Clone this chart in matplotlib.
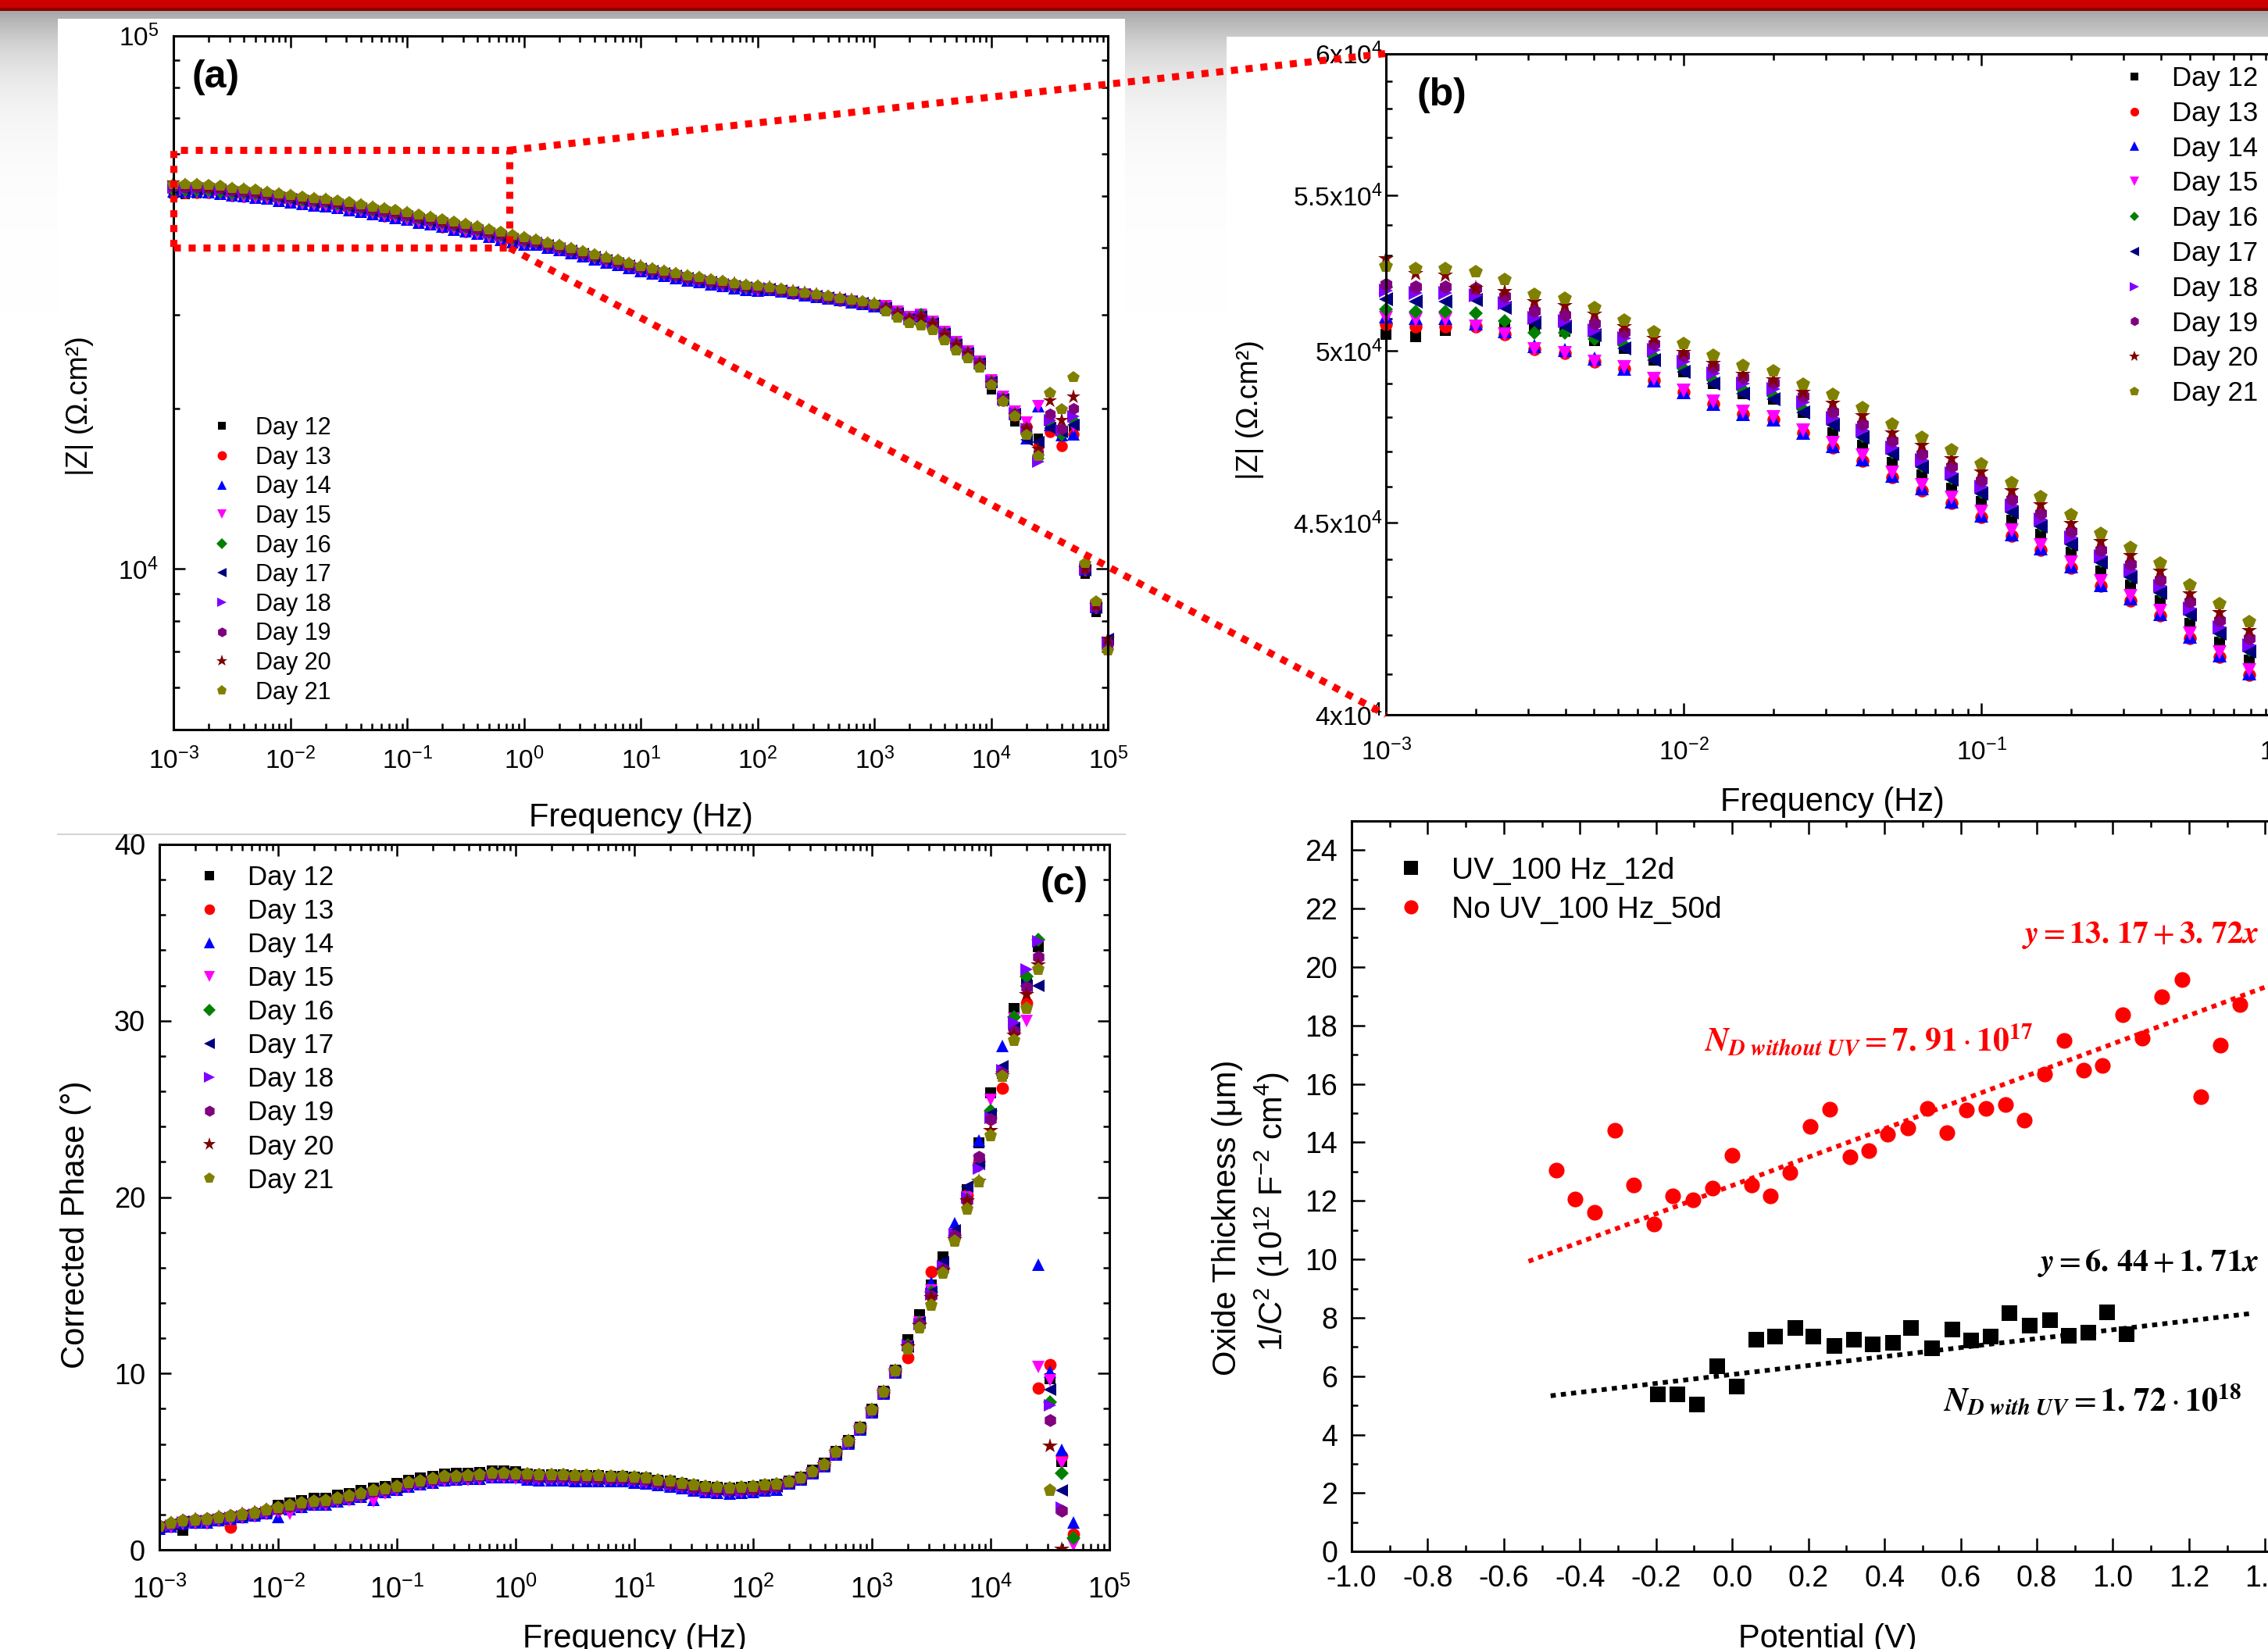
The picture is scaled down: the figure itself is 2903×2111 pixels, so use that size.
import numpy as np
import matplotlib
matplotlib.use("Agg")
import matplotlib.pyplot as plt
from matplotlib.patches import Rectangle, ConnectionPatch
from matplotlib.ticker import (LogLocator, NullFormatter, MultipleLocator,
                               FuncFormatter, FixedLocator)

plt.rcParams['font.family'] = ['Liberation Sans', 'DejaVu Sans']
plt.rcParams['mathtext.fontset'] = 'custom'
plt.rcParams['mathtext.rm'] = 'Liberation Sans'
plt.rcParams['mathtext.it'] = 'Liberation Sans:italic'
plt.rcParams['mathtext.bf'] = 'Liberation Sans:bold'
plt.rcParams['mathtext.sf'] = 'Liberation Sans'

nan = float("nan")

# ---------------- EIS data (frequency in Hz, |Z| in kOhm.cm2, phase in deg) ----------------
freq = [
    1.00e-3, 1.26e-3, 1.58e-3, 2.00e-3, 2.51e-3, 3.16e-3, 3.98e-3, 5.01e-3, 6.31e-3, 7.94e-3,
    1.00e-2, 1.26e-2, 1.58e-2, 2.00e-2, 2.51e-2, 3.16e-2, 3.98e-2, 5.01e-2, 6.31e-2, 7.94e-2,
    1.00e-1, 1.26e-1, 1.58e-1, 2.00e-1, 2.51e-1, 3.16e-1, 3.98e-1, 5.01e-1, 6.31e-1, 7.94e-1,
    1.00e0, 1.26e0, 1.58e0, 2.00e0, 2.51e0, 3.16e0, 3.98e0, 5.01e0, 6.31e0, 7.94e0,
    1.00e1, 1.26e1, 1.58e1, 2.00e1, 2.51e1, 3.16e1, 3.98e1, 5.01e1, 6.31e1, 7.94e1,
    1.00e2, 1.26e2, 1.58e2, 2.00e2, 2.51e2, 3.16e2, 3.98e2, 5.01e2, 6.31e2, 7.94e2,
    1.00e3, 1.26e3, 1.58e3, 2.00e3, 2.51e3, 3.16e3, 3.98e3, 5.01e3, 6.31e3, 7.94e3,
    1.00e4, 1.26e4, 1.58e4, 2.00e4, 2.51e4, 3.16e4, 3.98e4, 5.01e4, 6.31e4, 7.94e4,
    1.00e5]

z_day12 = [
    50.50, 50.43, 50.62, 50.79, 50.76, 50.72, 50.60, 50.32, 50.07, 49.72,
    49.36, 49.01, 48.71, 48.54, 48.15, 47.55, 47.18, 46.70, 46.33, 45.97,
    45.58, 45.06, 44.67, 44.18, 43.68, 43.30, 42.89, 42.31, 41.83, 41.37,
    40.94, 40.82, 40.33, 39.83, 39.34, 38.85, 38.36, 37.86, 37.37, 36.93,
    36.48, 36.09, 35.69, 35.35, 35.00, 34.71, 34.41, 34.12, 33.87, 33.62,
    33.43, 33.46, 33.22, 32.97, 32.72, 32.47, 32.22, 31.97, 31.73, 31.48,
    31.18, 30.7, 30.0, 29.3, 29.6, 28.7, 27.4, 26.2, 25.2, 24.1,
    21.7, 20.6, 18.9, 18.0, 17.6, 18.6, 18.0, 18.3, 9.78, 8.30,
    7.20]
z_day13 = [
    50.82, 50.75, 50.75, 50.74, 50.50, 50.04, 49.93, 49.66, 49.46, 49.11,
    48.75, 48.41, 48.11, 47.95, 47.56, 47.11, 46.74, 46.27, 45.90, 45.54,
    45.16, 44.64, 44.26, 43.77, 43.28, 42.90, 42.50, 41.92, 41.44, 40.99,
    40.56, 40.61, 40.12, 39.63, 39.14, 38.65, 38.16, 37.67, 37.18, 36.74,
    36.30, 35.90, 35.51, 35.17, 34.83, 34.53, 34.24, 33.94, 33.70, 33.45,
    33.26, 33.36, 33.12, 32.87, 32.62, 32.37, 32.13, 31.88, 31.63, 31.38,
    31.09, 30.8, 30.1, 29.4, 29.7, 28.8, 27.5, 26.3, 25.3, 24.2,
    22.3, 20.7, 19.4, 18.5, 17.0, 18.1, 17.0, 17.9, 9.95, 8.45,
    7.22]
z_day14 = [
    51.08, 51.01, 51.01, 50.84, 50.60, 50.15, 50.03, 49.76, 49.46, 49.11,
    48.75, 48.41, 48.11, 47.95, 47.56, 47.16, 46.79, 46.32, 45.95, 45.59,
    45.20, 44.69, 44.30, 43.82, 43.32, 42.95, 42.54, 41.97, 41.48, 41.03,
    40.60, 40.57, 40.08, 39.59, 39.10, 38.61, 38.12, 37.63, 37.14, 36.70,
    36.26, 35.87, 35.48, 35.13, 34.79, 34.50, 34.20, 33.91, 33.66, 33.42,
    33.22, 33.40, 33.15, 32.90, 32.65, 32.41, 32.16, 31.91, 31.66, 31.41,
    31.12, 30.9, 30.2, 29.5, 29.8, 28.9, 27.6, 26.4, 25.4, 24.3,
    22.4, 20.8, 19.5, 17.6, 20.2, 18.6, 17.8, 17.9, 9.97, 8.48,
    7.25]
z_day15 = [
    51.03, 50.96, 50.96, 50.74, 50.50, 50.04, 49.93, 49.66, 49.51, 49.16,
    48.80, 48.46, 48.16, 48.00, 47.61, 47.26, 46.89, 46.41, 46.04, 45.69,
    45.30, 44.78, 44.39, 43.91, 43.41, 43.03, 42.63, 42.05, 41.57, 41.11,
    40.68, 40.70, 40.20, 39.71, 39.22, 38.73, 38.24, 37.75, 37.26, 36.81,
    36.37, 35.98, 35.58, 35.24, 34.90, 34.60, 34.31, 34.01, 33.77, 33.52,
    33.32, 33.43, 33.18, 32.93, 32.69, 32.44, 32.19, 31.94, 31.69, 31.45,
    31.15, 31.1, 30.4, 29.7, 30.0, 29.1, 27.8, 26.6, 25.6, 24.5,
    22.6, 21.0, 19.7, 18.8, 20.2, 18.9, 18.0, 18.5, 9.96, 8.47,
    7.24]
z_day16 = [
    51.29, 51.22, 51.22, 51.16, 50.91, 50.56, 50.55, 50.37, 50.18, 49.82,
    49.46, 49.11, 48.81, 48.64, 48.25, 47.84, 47.47, 46.99, 46.61, 46.25,
    45.86, 45.34, 44.94, 44.45, 43.95, 43.57, 43.15, 42.57, 42.08, 41.62,
    41.19, 40.99, 40.49, 40.00, 39.50, 39.01, 38.51, 38.02, 37.52, 37.08,
    36.63, 36.23, 35.84, 35.49, 35.15, 34.85, 34.55, 34.25, 34.01, 33.76,
    33.56, 33.53, 33.28, 33.03, 32.79, 32.54, 32.29, 32.04, 31.79, 31.54,
    31.24, 31.0, 30.3, 29.6, 30.1, 29.0, 27.7, 26.5, 25.5, 24.4,
    22.5, 20.9, 19.6, 18.1, 16.1, 18.8, 17.8, 19.0, 9.98, 8.50,
    7.26]
z_day17 = [
    51.61, 51.54, 51.54, 51.58, 51.33, 50.87, 50.75, 50.48, 50.07, 49.72,
    49.36, 49.01, 48.71, 48.54, 48.15, 47.79, 47.42, 46.94, 46.57, 46.20,
    45.81, 45.29, 44.90, 44.41, 43.91, 43.52, 43.11, 42.53, 42.04, 41.58,
    41.15, 40.94, 40.45, 39.96, 39.46, 38.97, 38.47, 37.98, 37.48, 37.04,
    36.59, 36.20, 35.80, 35.46, 35.11, 34.81, 34.52, 34.22, 33.97, 33.72,
    33.53, 33.50, 33.25, 33.00, 32.75, 32.50, 32.26, 32.01, 31.76, 31.51,
    31.21, 30.9, 30.2, 29.5, 29.8, 28.9, 27.6, 26.4, 25.4, 24.3,
    22.4, 20.8, 19.5, 17.5, 17.3, 18.4, 18.1, 18.6, 9.96, 8.47,
    7.39]
z_day18 = [
    51.87, 51.80, 51.80, 51.74, 51.49, 51.03, 50.91, 50.63, 50.38, 50.02,
    49.66, 49.31, 49.00, 48.84, 48.44, 47.99, 47.61, 47.13, 46.76, 46.39,
    46.00, 45.47, 45.08, 44.59, 44.08, 43.70, 43.29, 42.70, 42.21, 41.75,
    41.31, 41.07, 40.57, 40.08, 39.58, 39.08, 38.59, 38.09, 37.60, 37.15,
    36.70, 36.31, 35.91, 35.56, 35.22, 34.92, 34.62, 34.32, 34.07, 33.83,
    33.63, 33.57, 33.32, 33.07, 32.82, 32.57, 32.32, 32.07, 31.82, 31.57,
    31.27, 31.0, 30.3, 29.6, 29.9, 29.0, 27.7, 26.5, 25.5, 24.4,
    22.5, 20.9, 19.6, 18.3, 15.9, 19.0, 18.2, 19.3, 9.99, 8.50,
    7.27]
z_day19 = [
    52.08, 52.01, 52.01, 51.95, 51.70, 51.23, 51.11, 50.84, 50.58, 50.23,
    49.86, 49.51, 49.20, 49.03, 48.64, 48.18, 47.81, 47.32, 46.95, 46.58,
    46.18, 45.66, 45.26, 44.77, 44.26, 43.88, 43.46, 42.88, 42.38, 41.92,
    41.48, 41.15, 40.65, 40.16, 39.66, 39.16, 38.67, 38.17, 37.67, 37.22,
    36.78, 36.38, 35.98, 35.63, 35.29, 34.99, 34.69, 34.39, 34.14, 33.90,
    33.70, 33.60, 33.35, 33.10, 32.85, 32.60, 32.35, 32.10, 31.85, 31.60,
    31.31, 30.9, 30.2, 29.5, 29.8, 28.9, 27.6, 26.4, 25.4, 24.3,
    22.4, 20.8, 19.5, 18.4, 16.5, 19.5, 18.3, 20.0, 10.00, 8.52,
    7.28]
z_day20 = [
    52.92, 52.43, 52.38, 51.95, 51.85, 51.54, 51.42, 51.14, 50.74, 50.38,
    49.96, 49.61, 49.30, 49.13, 48.74, 48.43, 48.05, 47.56, 47.18, 46.81,
    46.42, 45.89, 45.49, 44.99, 44.49, 44.10, 43.68, 43.09, 42.60, 42.13,
    41.69, 41.28, 40.78, 40.28, 39.78, 39.28, 38.78, 38.28, 37.79, 37.34,
    36.89, 36.49, 36.09, 35.74, 35.39, 35.09, 34.80, 34.50, 34.25, 34.00,
    33.80, 33.67, 33.42, 33.17, 32.92, 32.67, 32.42, 32.17, 31.92, 31.67,
    31.37, 30.8, 30.1, 29.4, 29.7, 28.8, 27.5, 26.3, 25.3, 24.2,
    22.3, 20.7, 19.4, 18.3, 16.8, 20.7, 19.0, 21.0, 10.02, 8.55,
    7.39]
z_day21 = [
    52.66, 52.59, 52.59, 52.47, 52.22, 51.75, 51.63, 51.35, 50.94, 50.58,
    50.21, 49.86, 49.55, 49.38, 48.98, 48.67, 48.29, 47.80, 47.42, 47.05,
    46.65, 46.12, 45.72, 45.22, 44.71, 44.32, 43.90, 43.31, 42.81, 42.34,
    41.90, 41.40, 40.90, 40.40, 39.90, 39.40, 38.90, 38.40, 37.90, 37.45,
    37.00, 36.60, 36.20, 35.85, 35.50, 35.20, 34.90, 34.60, 34.35, 34.10,
    33.90, 33.70, 33.45, 33.20, 32.95, 32.70, 32.45, 32.20, 31.95, 31.70,
    31.40, 30.40, 29.60, 28.90, 28.60, 28.00, 26.80, 25.70, 24.80, 23.80,
    22.10, 20.60, 19.30, 17.80, 16.30, 21.40, 19.90, 22.90, 10.24, 8.70,
    7.04]

ph_day12 = [
    1.24, 1.39, 1.12, 1.59, 1.62, 1.72, 1.80, 1.91, 2.00, 2.14,
    2.54, 2.67, 2.79, 2.91, 2.94, 3.09, 3.21, 3.36, 3.51, 3.61,
    3.76, 3.96, 4.06, 4.18, 4.30, 4.33, 4.36, 4.40, 4.48, 4.48,
    4.45, 4.28, 4.25, 4.25, 4.25, 4.22, 4.22, 4.19, 4.18, 4.18,
    4.13, 4.07, 3.96, 3.88, 3.78, 3.66, 3.58, 3.54, 3.51, 3.54,
    3.57, 3.66, 3.73, 3.90, 4.12, 4.50, 4.90, 5.57, 6.19, 6.97,
    7.96, 8.99, 10.21, 11.9, 13.35, 15.0, 16.6, 18.0, 20.4, 23.1,
    25.9, 27.0, 30.7, 32.2, 34.2, 9.72, 5.0, nan, nan, nan,
    nan]
ph_day13 = [
    1.19, 1.34, 1.49, 1.54, 1.57, 1.67, 1.30, 1.86, 1.95, 2.09,
    2.29, 2.42, 2.54, 2.66, 2.69, 2.84, 2.96, 3.11, 3.26, 3.36,
    3.51, 3.71, 3.81, 3.93, 4.05, 4.08, 4.11, 4.15, 4.23, 4.23,
    4.20, 4.13, 4.10, 4.10, 4.10, 4.07, 4.07, 4.04, 4.03, 4.03,
    3.98, 3.92, 3.81, 3.73, 3.63, 3.51, 3.43, 3.39, 3.36, 3.39,
    3.42, 3.51, 3.58, 3.80, 4.02, 4.40, 4.80, 5.47, 6.09, 6.87,
    7.86, 8.89, 10.11, 10.9, 12.9, 15.76, 16.0, 17.9, 20.1, 22.0,
    24.5, 26.18, 29.5, 31.0, 9.15, 10.5, 5.31, 0.9, nan, nan,
    nan]
ph_day14 = [
    1.19, 1.34, 1.49, 1.54, 1.57, 1.67, 1.75, 1.86, 1.95, 2.09,
    1.85, 2.32, 2.44, 2.56, 2.59, 2.74, 2.86, 3.01, 2.85, 3.26,
    3.41, 3.61, 3.71, 3.83, 3.95, 3.98, 4.01, 4.05, 4.13, 4.13,
    4.10, 3.98, 3.95, 3.95, 3.95, 3.92, 3.92, 3.89, 3.88, 3.88,
    3.83, 3.77, 3.66, 3.58, 3.48, 3.36, 3.28, 3.24, 3.21, 3.24,
    3.27, 3.36, 3.43, 3.75, 3.97, 4.35, 4.75, 5.42, 6.04, 6.82,
    7.81, 8.84, 10.06, 11.6, 13.0, 15.16, 16.2, 18.5, 20.2, 23.2,
    24.9, 28.56, 29.8, 32.3, 16.15, 10.1, 5.65, 1.56, nan, nan,
    nan]
ph_day15 = [
    1.14, 1.29, 1.44, 1.49, 1.52, 1.62, 1.70, 1.81, 1.90, 2.04,
    2.14, 2.05, 2.39, 2.51, 2.54, 2.69, 2.81, 2.96, 2.75, 3.21,
    3.36, 3.56, 3.66, 3.78, 3.90, 3.93, 3.96, 4.00, 4.08, 4.08,
    4.05, 4.03, 4.00, 4.00, 4.00, 3.97, 3.97, 3.94, 3.93, 3.93,
    3.88, 3.82, 3.71, 3.63, 3.53, 3.41, 3.33, 3.29, 3.26, 3.29,
    3.32, 3.41, 3.48, 3.75, 3.97, 4.35, 4.75, 5.42, 6.04, 6.82,
    7.81, 8.84, 10.06, 11.5, 12.9, 14.7, 16.0, 17.9, 20.0, 22.0,
    25.5, 27.0, 30.1, 30.0, 10.37, 9.6, 4.9, 0.26, nan, nan,
    nan]
ph_day16 = [
    1.34, 1.49, 1.64, 1.69, 1.72, 1.82, 1.90, 2.01, 2.10, 2.24,
    2.34, 2.47, 2.59, 2.71, 2.74, 2.89, 3.01, 3.16, 3.31, 3.41,
    3.56, 3.76, 3.86, 3.98, 4.10, 4.13, 4.16, 4.20, 4.28, 4.28,
    4.25, 4.18, 4.15, 4.15, 4.15, 4.12, 4.12, 4.09, 4.08, 4.08,
    4.03, 3.97, 3.86, 3.78, 3.68, 3.56, 3.48, 3.44, 3.41, 3.44,
    3.47, 3.56, 3.63, 3.85, 4.07, 4.45, 4.85, 5.52, 6.14, 6.92,
    7.91, 8.94, 10.16, 11.6, 12.9, 14.6, 16.0, 17.8, 19.9, 21.8,
    24.9, 27.1, 30.2, 32.5, 34.6, 8.37, 4.33, 0.65, nan, nan,
    nan]
ph_day17 = [
    1.29, 1.44, 1.59, 1.64, 1.67, 1.77, 1.85, 1.96, 2.05, 2.19,
    2.34, 2.47, 2.59, 2.71, 2.74, 2.89, 3.01, 3.16, 3.31, 3.41,
    3.56, 3.76, 3.86, 3.98, 4.10, 4.13, 4.16, 4.20, 4.28, 4.28,
    4.25, 4.13, 4.10, 4.10, 4.10, 4.07, 4.07, 4.04, 4.03, 4.03,
    3.98, 3.92, 3.81, 3.73, 3.63, 3.51, 3.43, 3.39, 3.36, 3.39,
    3.42, 3.51, 3.58, 3.80, 4.02, 4.40, 4.80, 5.47, 6.09, 6.87,
    7.86, 8.89, 10.11, 11.5, 12.9, 14.6, 16.3, 18.1, 20.6, 21.9,
    24.7, 27.4, 29.6, 32.0, 32.0, 9.07, 3.37, nan, nan, nan,
    nan]
ph_day18 = [
    1.24, 1.39, 1.54, 1.59, 1.62, 1.72, 1.80, 1.91, 2.00, 2.14,
    2.24, 2.37, 2.49, 2.61, 2.64, 2.79, 2.91, 3.06, 3.21, 3.31,
    3.46, 3.66, 3.76, 3.88, 4.00, 4.03, 4.06, 4.10, 4.18, 4.18,
    4.15, 4.08, 4.05, 4.05, 4.05, 4.02, 4.02, 3.99, 3.98, 3.98,
    3.93, 3.87, 3.76, 3.68, 3.58, 3.46, 3.38, 3.34, 3.31, 3.34,
    3.37, 3.46, 3.53, 3.75, 3.97, 4.35, 4.75, 5.42, 6.04, 6.82,
    7.81, 8.84, 10.06, 11.6, 12.8, 14.5, 16.1, 17.9, 20.0, 21.6,
    24.5, 27.2, 29.9, 32.9, 34.5, 8.2, 2.4, nan, nan, nan,
    nan]
ph_day19 = [
    1.37, 1.52, 1.67, 1.72, 1.75, 1.85, 1.93, 2.04, 2.13, 2.27,
    2.36, 2.49, 2.61, 2.73, 2.76, 2.91, 3.03, 3.18, 3.33, 3.43,
    3.58, 3.78, 3.88, 4.00, 4.12, 4.15, 4.18, 4.22, 4.30, 4.30,
    4.27, 4.18, 4.15, 4.15, 4.15, 4.12, 4.12, 4.09, 4.08, 4.08,
    4.03, 3.97, 3.86, 3.78, 3.68, 3.56, 3.48, 3.44, 3.41, 3.44,
    3.47, 3.56, 3.63, 3.85, 4.07, 4.45, 4.85, 5.52, 6.14, 6.92,
    7.91, 8.94, 10.16, 11.5, 12.8, 14.39, 15.9, 17.8, 19.8, 22.3,
    24.4, 27.0, 29.4, 31.9, 33.6, 7.34, 2.2, nan, nan, nan,
    nan]
ph_day20 = [
    1.36, 1.51, 1.66, 1.71, 1.74, 1.84, 1.92, 2.03, 2.12, 2.26,
    2.37, 2.50, 2.62, 2.74, 2.77, 2.92, 3.04, 3.19, 3.34, 3.44,
    3.59, 3.79, 3.89, 4.01, 4.13, 4.16, 4.19, 4.23, 4.31, 4.31,
    4.28, 4.23, 4.20, 4.20, 4.20, 4.17, 4.17, 4.14, 4.13, 4.13,
    4.08, 4.02, 3.91, 3.83, 3.73, 3.61, 3.53, 3.49, 3.46, 3.49,
    3.52, 3.61, 3.68, 3.85, 4.07, 4.45, 4.85, 5.52, 6.14, 6.92,
    7.91, 8.94, 10.16, 11.5, 12.7, 14.3, 15.8, 17.6, 19.8, 20.9,
    23.8, 26.9, 29.2, 31.5, 33.2, 5.88, 0.05, nan, nan, nan,
    nan]
ph_day21 = [
    1.34, 1.49, 1.64, 1.69, 1.72, 1.82, 1.90, 2.01, 2.10, 2.24,
    2.39, 2.52, 2.64, 2.76, 2.79, 2.94, 3.06, 3.21, 3.36, 3.46,
    3.61, 3.81, 3.91, 4.03, 4.15, 4.18, 4.21, 4.25, 4.33, 4.33,
    4.30, 4.28, 4.25, 4.25, 4.25, 4.22, 4.22, 4.19, 4.18, 4.18,
    4.13, 4.07, 3.96, 3.88, 3.78, 3.66, 3.58, 3.54, 3.51, 3.54,
    3.57, 3.66, 3.73, 3.85, 4.07, 4.45, 4.85, 5.52, 6.14, 6.92,
    7.91, 8.94, 10.16, 11.4, 12.57, 13.87, 15.68, 17.5, 19.31, 20.87,
    23.46, 26.83, 28.9, 30.7, 32.9, 3.37, nan, nan, nan, nan,
    nan]

day_labels = ["Day 12", "Day 13", "Day 14", "Day 15", "Day 16",
              "Day 17", "Day 18", "Day 19", "Day 20", "Day 21"]
day_colors = ["#000000", "#ff0000", "#0000ff", "#ff00ff", "#008000",
              "#000080", "#8000ff", "#800080", "#800000", "#808000"]
day_markers = ["s", "o", "^", "v", "D", "<", ">", "h", "*", "p"]
marker_scale = [0.85, 0.95, 1.0, 1.0, 0.75, 1.0, 1.0, 1.0, 1.25, 1.05]
z_series = [z_day12, z_day13, z_day14, z_day15, z_day16,
            z_day17, z_day18, z_day19, z_day20, z_day21]
ph_series = [ph_day12, ph_day13, ph_day14, ph_day15, ph_day16,
             ph_day17, ph_day18, ph_day19, ph_day20, ph_day21]

# zoomed window shown in panel (b)
zoom_f = (1.0e-3, 0.75)
zoom_z = (4.0e4, 6.1e4)

# ---------------- Mott-Schottky data ----------------
uv_v = [-0.196, -0.144, -0.092, -0.039, 0.011, 0.063, 0.113, 0.165, 0.214, 0.269,
        0.319, 0.369, 0.422, 0.470, 0.525, 0.578, 0.628, 0.678, 0.729, 0.781,
        0.834, 0.884, 0.936, 0.985, 1.037]
uv_c = [5.38, 5.38, 5.03, 6.34, 5.64, 7.26, 7.35, 7.64, 7.35, 7.03,
        7.26, 7.08, 7.14, 7.64, 6.96, 7.61, 7.22, 7.35, 8.17, 7.73,
        7.91, 7.38, 7.49, 8.19, 7.43]
nouv_v = [-0.462, -0.412, -0.361, -0.309, -0.259, -0.206, -0.156, -0.104, -0.051, 0.000,
          0.050, 0.101, 0.152, 0.204, 0.256, 0.309, 0.359, 0.408, 0.461, 0.513,
          0.565, 0.615, 0.667, 0.717, 0.768, 0.821, 0.871, 0.923, 0.973, 1.026,
          1.078, 1.129, 1.181, 1.232, 1.283, 1.334]
nouv_c = [13.06, 12.06, 11.60, 14.41, 12.53, 11.21, 12.18, 12.04, 12.44, 13.55,
          12.53, 12.16, 12.97, 14.55, 15.13, 13.50, 13.71, 14.29, 14.50, 15.17,
          14.32, 15.11, 15.17, 15.29, 14.76, 16.34, 17.49, 16.48, 16.63, 18.37,
          17.57, 18.98, 19.56, 15.55, 17.33, 18.72]
uv_fit_v = [-0.477, 1.366]
uv_fit_c = [5.33, 8.15]
nouv_fit_v = [-0.535, 1.41]
nouv_fit_c = [9.93, 19.36]

# ---------------- figure ----------------
W, H = 2903, 2111
fig = plt.figure(figsize=(W / 100, H / 100), dpi=100)


def add_ax(l, t, r, b):
    return fig.add_axes([l / W, 1 - b / H, (r - l) / W, (b - t) / H])


def fpos(x, y):
    return x / W, 1 - y / H


# background: slide header (red bar + grey shadow) and white panel cards
bg = fig.add_axes([0, 0, 1, 1], zorder=-10)
bg.set_xlim(0, W)
bg.set_ylim(H, 0)
bg.axis("off")
rows = np.arange(400)
shade = np.clip(1.0 - 0.36 * np.exp(-np.clip(rows - 12, 0, None) / 62.0), 0, 1)
bg.imshow(np.repeat(shade[:, None, None], 3, axis=2), extent=[0, W, 400, 0],
          aspect="auto", interpolation="bilinear")
bg.add_patch(Rectangle((0, 0), W, 13, color="#cc0000", lw=0))
bg.add_patch(Rectangle((0, 10), W, 4, color="#8a0000", lw=0))
bg.add_patch(Rectangle((74, 24), 1440 - 74, H - 24, color="white", lw=0))
bg.add_patch(Rectangle((1570, 47), W - 1570, H - 47, color="white", lw=0))
bg.plot([74, 1440], [1068, 1068], color="#d4d4d4", lw=1.5)


def style_axes(ax, lsize, padx, pady):
    for sp in ax.spines.values():
        sp.set_linewidth(2.2)
    ax.tick_params(which="both", direction="in", top=True, right=True, width=1.8)
    ax.tick_params(which="major", length=11)
    ax.tick_params(which="minor", length=6)
    ax.tick_params(axis="x", labelsize=lsize, pad=padx)
    ax.tick_params(axis="y", labelsize=lsize, pad=pady)


def log_x(ax):
    ax.set_xscale("log")
    ax.xaxis.set_major_locator(LogLocator(base=10, numticks=30))
    ax.xaxis.set_minor_locator(LogLocator(base=10, subs=np.arange(2, 10), numticks=300))
    ax.xaxis.set_minor_formatter(NullFormatter())


# ---- (a) |Z| vs frequency ----
ax_a = add_ax(222.4, 45.7, 1418.4, 934)
for z, lab, mk, col, sc in zip(z_series, day_labels, day_markers, day_colors, marker_scale):
    ax_a.plot(freq, np.array(z) * 1e3, ls="none", marker=mk, ms=11 * sc,
              color=col, mew=0, label=lab, clip_on=False)
log_x(ax_a)
ax_a.set_yscale("log")
ax_a.set_xlim(1e-3, 1e5)
ax_a.set_ylim(5000, 1e5)
ax_a.yaxis.set_minor_locator(LogLocator(base=10, subs=np.arange(2, 10), numticks=300))
ax_a.yaxis.set_minor_formatter(NullFormatter())
style_axes(ax_a, 24, 16, 14)
ax_a.set_xlabel("Frequency (Hz)", fontsize=30, va="baseline")
ax_a.xaxis.set_label_coords(0.5, -0.1396)
ax_a.set_ylabel("|Z| (Ω.cm²)", fontsize=27, va="center")
ax_a.yaxis.set_label_coords(-0.1007, 0.466)
ax_a.legend(loc="upper left", bbox_to_anchor=fpos(269, 533), bbox_transform=fig.transFigure,
            frameon=False, fontsize=22, handlelength=1.0, handletextpad=0.89,
            labelspacing=0.25, borderpad=0, borderaxespad=0, markerscale=0.82)
ax_a.add_patch(Rectangle((zoom_f[0], zoom_z[0]), zoom_f[1] - zoom_f[0], zoom_z[1] - zoom_z[0],
                         fill=False, ec="#ff0000", lw=6.5, ls=(0, (1, 1.1)),
                         capstyle="butt", clip_on=False, zorder=10))

# ---- (b) zoom of |Z| ----
ax_b = add_ax(1774, 68.5, 2917.6, 915)
for z, lab, mk, col, sc in zip(z_series, day_labels, day_markers, day_colors, marker_scale):
    ax_b.plot(freq, np.array(z) * 1e3, ls="none", marker=mk, ms=12.5 * sc,
              color=col, mew=0, label=lab, clip_on=False)
log_x(ax_b)
ax_b.set_yscale("log")
ax_b.set_xlim(1e-3, 1e0)
ax_b.set_ylim(4e4, 6e4)
ax_b.set_yticks([4e4, 4.5e4, 5e4, 5.5e4, 6e4],
                labels=[r"$4\mathrm{x}10^{4}$", r"$4.5\mathrm{x}10^{4}$", r"$5\mathrm{x}10^{4}$",
                        r"$5.5\mathrm{x}10^{4}$", r"$6\mathrm{x}10^{4}$"])
ax_b.yaxis.set_minor_locator(FixedLocator([v for v in range(41000, 60000, 1000) if v % 5000]))
ax_b.yaxis.set_minor_formatter(NullFormatter())
style_axes(ax_b, 24, 22, 3)
ax_b.set_xlabel("Frequency (Hz)", fontsize=30, va="baseline")
ax_b.xaxis.set_label_coords(0.5, -0.1453)
ax_b.set_ylabel("|Z| (Ω.cm²)", fontsize=27, va="center")
ax_b.yaxis.set_label_coords(-0.152, 0.461)
ax_b.legend(loc="upper left", bbox_to_anchor=fpos(2714.3, 84), bbox_transform=fig.transFigure,
            frameon=False, fontsize=25, handlelength=1.0, handletextpad=0.9,
            labelspacing=0.34, borderpad=0, borderaxespad=0, markerscale=0.68)

# ---- (c) corrected phase ----
ax_c = add_ax(204, 1081, 1420, 1984)
for ph, lab, mk, col, sc in zip(ph_series, day_labels, day_markers, day_colors, marker_scale):
    ax_c.plot(freq, ph, ls="none", marker=mk, ms=12 * sc, color=col, mew=0, label=lab)
log_x(ax_c)
ax_c.set_xlim(1e-3, 1e5)
ax_c.set_ylim(0, 40)
ax_c.yaxis.set_major_locator(MultipleLocator(10))
ax_c.yaxis.set_minor_locator(MultipleLocator(2))
style_axes(ax_c, 26, 24, 13)
ax_c.set_xlabel("Frequency (Hz)", fontsize=30, va="baseline")
ax_c.xaxis.set_label_coords(0.5, -0.138)
ax_c.set_ylabel("Corrected Phase (°)", fontsize=30, va="center")
ax_c.yaxis.set_label_coords(-0.088, 0.461)
ax_c.legend(loc="upper left", bbox_to_anchor=fpos(250.6, 1107), bbox_transform=fig.transFigure,
            frameon=False, fontsize=25, handlelength=1.0, handletextpad=0.91,
            labelspacing=0.29, borderpad=0, borderaxespad=0, markerscale=0.85)

# ---- (d) Mott-Schottky ----
ax_d = add_ax(1730, 1050.8, 2948, 1986.3)
ax_d.plot(uv_v, uv_c, ls="none", marker="s", ms=14, color="black", mew=0,
          label="UV_100 Hz_12d", zorder=3)
ax_d.plot(nouv_v, nouv_c, ls="none", marker="o", ms=14.5, color="#ff0000", mew=0,
          label="No UV_100 Hz_50d", zorder=3)
ax_d.plot(uv_fit_v, uv_fit_c, color="black", lw=4.3, ls=(0, (1.1, 1.1)),
          dash_capstyle="butt", zorder=2)
ax_d.plot(nouv_fit_v, nouv_fit_c, color="#ff0000", lw=4.3, ls=(0, (1.1, 1.1)),
          dash_capstyle="butt", zorder=2)
ax_d.set_xlim(-1.0, 1.5)
ax_d.set_ylim(0, 25)
ax_d.xaxis.set_major_locator(MultipleLocator(0.2))
ax_d.xaxis.set_minor_locator(MultipleLocator(0.1))
ax_d.xaxis.set_major_formatter(FuncFormatter(lambda v, p: f"{round(v, 1) + 0.0:.1f}"))
ax_d.yaxis.set_major_locator(MultipleLocator(2))
ax_d.yaxis.set_minor_locator(MultipleLocator(1))
style_axes(ax_d, 27, 12, 13)
ax_d.tick_params(which="major", length=12)
ax_d.tick_params(labelfontfamily=["Liberation Sans Narrow", "Liberation Sans"])
ax_d.set_xlabel("Potential (V)", fontsize=30, va="baseline")
ax_d.xaxis.set_label_coords(0.5, -0.131)
ax_d.text(-0.1305, 0.457, "Oxide Thickness (μm)", transform=ax_d.transAxes, rotation=90,
          ha="center", va="center", fontsize=30)
ax_d.text(-0.0837, 0.465, r"1/C$^{2}$ (10$^{12}$ F$^{-2}$ cm$^{4}$)", transform=ax_d.transAxes,
          rotation=90, ha="center", va="center", fontsize=30)
ax_d.legend(loc="upper left", bbox_to_anchor=fpos(1786.5, 1097), bbox_transform=fig.transFigure,
            frameon=False, fontsize=28, handlelength=1.0, handletextpad=0.84,
            labelspacing=0.36, borderpad=0, borderaxespad=0, markerscale=0.9)

fig.text(*fpos(2588, 1197), r"$\mathbfit{y} = \mathbf{13.\,17} + \mathbf{3.\,72}\mathbfit{x}$",
         color="#ff0000", fontsize=29, ha="left", va="center", math_fontfamily="stix")
fig.text(*fpos(2181, 1332),
         r"$\mathbfit{N}_{\mathbfit{D\ without\ UV}} = \mathbf{7.\,91} \cdot \mathbf{10}^{\mathbf{17}}$",
         color="#ff0000", fontsize=30, ha="left", va="center", math_fontfamily="stix")
fig.text(*fpos(2608, 1617), r"$\mathbfit{y} = \mathbf{6.\,44} + \mathbf{1.\,71}\mathbfit{x}$",
         color="black", fontsize=29, ha="left", va="center", math_fontfamily="stix")
fig.text(*fpos(2487, 1792),
         r"$\mathbfit{N}_{\mathbfit{D\ with\ UV}} = \mathbf{1.\,72} \cdot \mathbf{10}^{\mathbf{18}}$",
         color="black", fontsize=30, ha="left", va="center", math_fontfamily="stix")

# panel letters
fig.text(*fpos(245, 99), "(a)", fontsize=36, fontweight="bold", ha="left", va="center")
fig.text(*fpos(1813, 122), "(b)", fontsize=36, fontweight="bold", ha="left", va="center")
fig.text(*fpos(1332, 1132), "(c)", fontsize=36, fontweight="bold", ha="left", va="center")

# red dotted connectors from the zoom box in (a) to panel (b)
for zy, by in [(zoom_z[1], 6e4), (zoom_z[0], 4e4)]:
    con = ConnectionPatch(xyA=(zoom_f[1], zy), coordsA=ax_a.transData,
                          xyB=(1e-3, by), coordsB=ax_b.transData,
                          color="#ff0000", lw=6.5, ls=(0, (1, 1.1)), capstyle="butt", zorder=20)
    fig.add_artist(con)

fig.savefig("out.png", dpi=100)
